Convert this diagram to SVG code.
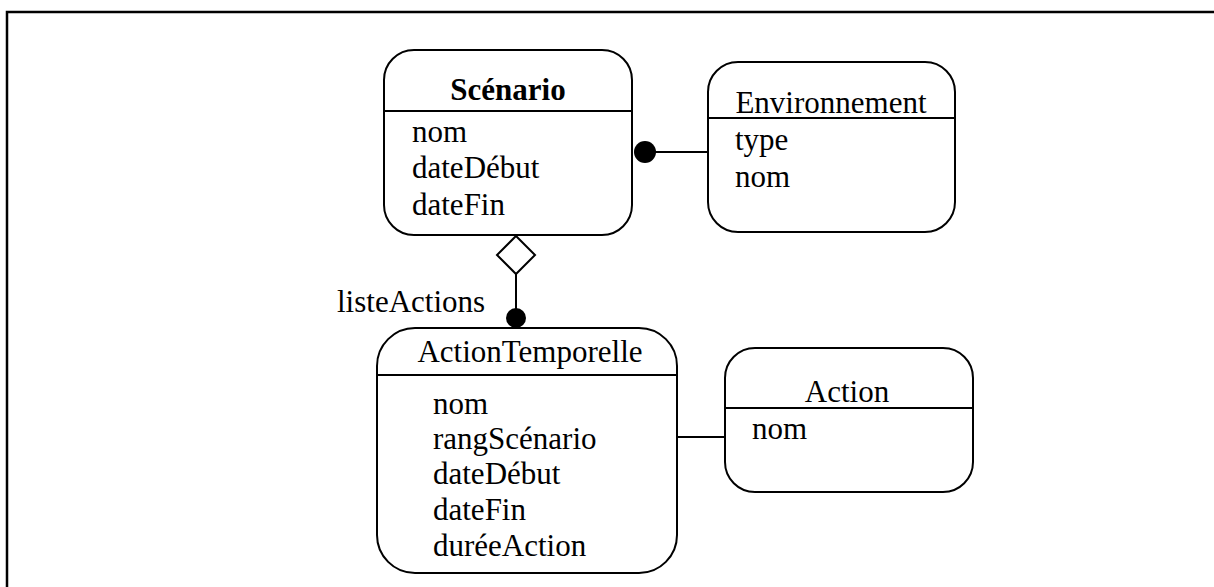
<svg xmlns="http://www.w3.org/2000/svg" width="1214" height="587" viewBox="0 0 1214 587">
<style>
.box{fill:#fff;stroke:#000;stroke-width:2}
.sep{stroke:#000;stroke-width:2}
.t{font-family:"Liberation Serif","Times New Roman",serif;font-size:31px;fill:#000}
.c{text-anchor:middle}
.b{font-weight:bold}
.conn{stroke:#000;stroke-width:2;fill:none}
</style>
<rect x="0" y="0" width="1214" height="587" fill="#fff"/>
<rect x="7" y="12" width="1220" height="600" fill="none" stroke="#000" stroke-width="2.5"/>
<g id="connectors">
<line class="conn" x1="645" y1="152" x2="708" y2="152"/>
<circle cx="645" cy="152" r="11" fill="#000"/>
<line class="conn" x1="516" y1="274" x2="516" y2="318"/>
<polygon points="516,236 535,255 516,274 497,255" fill="#fff" stroke="#000" stroke-width="2"/>
<circle cx="516" cy="318" r="10" fill="#000"/>
<text class="t" x="337" y="312">listeActions</text>
<line class="conn" x1="677" y1="437" x2="725" y2="437"/>
</g>
<g id="scenario">
<rect class="box" x="384" y="50" width="248" height="185" rx="30" ry="30"/>
<line class="sep" x1="384" y1="111" x2="632" y2="111"/>
<text class="t c b" x="508" y="100">Scénario</text>
<text class="t" x="412" y="142">nom</text>
<text class="t" x="412" y="178">dateDébut</text>
<text class="t" x="412" y="215">dateFin</text>
</g>
<g id="environnement">
<rect class="box" x="708" y="62" width="247" height="170" rx="30" ry="30"/>
<line class="sep" x1="708" y1="118" x2="955" y2="118"/>
<text class="t c" x="831" y="113">Environnement</text>
<text class="t" x="735" y="150">type</text>
<text class="t" x="735" y="187">nom</text>
</g>
<g id="actionTemporelle">
<rect class="box" x="377" y="328" width="300" height="245" rx="38" ry="38"/>
<line class="sep" x1="377" y1="375" x2="677" y2="375"/>
<text class="t c" x="530" y="362">ActionTemporelle</text>
<text class="t" x="433" y="414">nom</text>
<text class="t" x="433" y="449">rangScénario</text>
<text class="t" x="433" y="484">dateDébut</text>
<text class="t" x="433" y="520">dateFin</text>
<text class="t" x="433" y="556">duréeAction</text>
</g>
<g id="action">
<rect class="box" x="725" y="348" width="248" height="144" rx="30" ry="30"/>
<line class="sep" x1="725" y1="408" x2="973" y2="408"/>
<text class="t c" x="847" y="402">Action</text>
<text class="t" x="752" y="439">nom</text>
</g>
</svg>
